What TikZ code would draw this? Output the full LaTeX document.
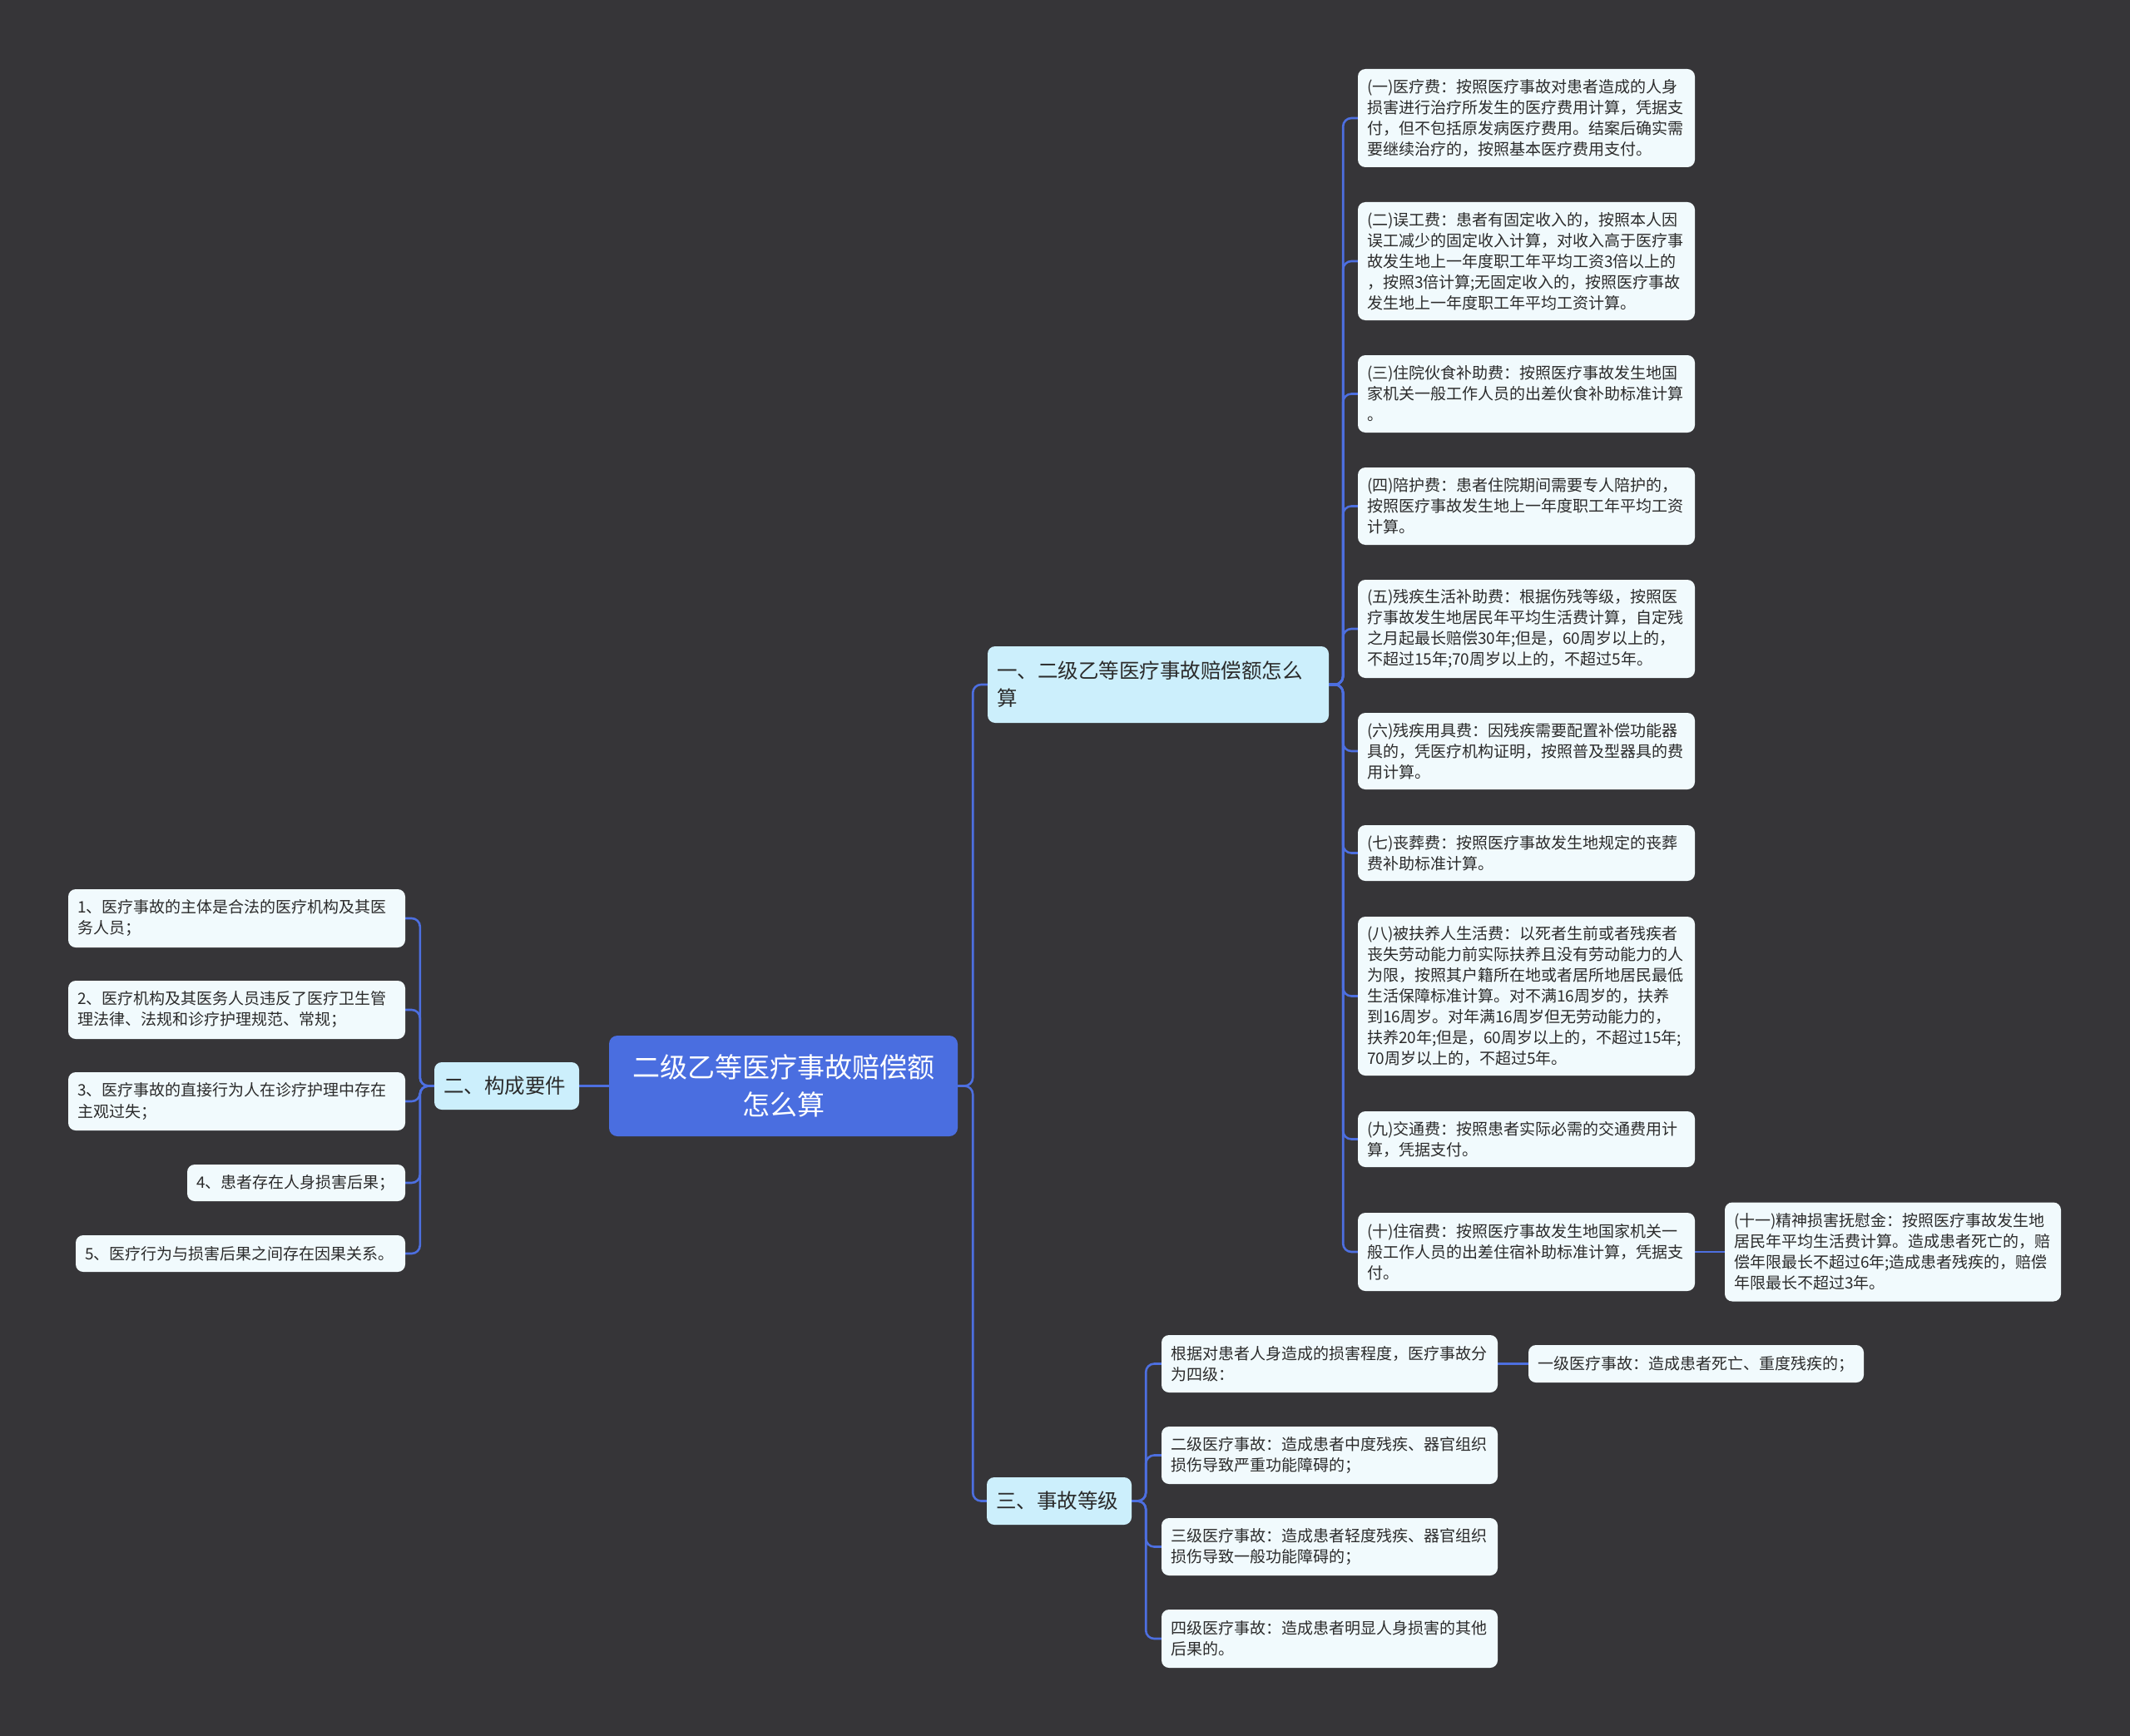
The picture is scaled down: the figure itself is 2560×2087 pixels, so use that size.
\documentclass[tikz,border=0pt]{standalone}
\usepackage{fontspec}
\setmainfont{Noto Sans CJK SC}
\definecolor{bgc}{HTML}{363538}
\definecolor{rootc}{HTML}{4A6EE0}
\definecolor{lonec}{HTML}{CCEFFC}
\definecolor{leafc}{HTML}{F1FAFD}
\definecolor{linec}{HTML}{4D6FE0}
\definecolor{txtc}{HTML}{2B2B2B}
\pgfdeclarelayer{bglayer}
\pgfdeclarelayer{edges}
\pgfsetlayers{bglayer,edges,main}
\tikzset{
  box/.style={rounded corners=9pt, inner xsep=11pt, inner ysep=3pt, align=left, text=txtc},
  leaf/.style={box, fill=leafc, font=\fontsize{19}{25}\selectfont},
  lone/.style={box, fill=lonec, font=\fontsize{24.5}{33}\selectfont, inner xsep=11pt},
  rootbox/.style={rounded corners=10pt, fill=rootc, text=white, align=center, font=\fontsize{33}{45}\selectfont},
  conn/.style={draw=linec, line width=2.6pt, rounded corners=10pt},
}
\begin{document}
\begin{tikzpicture}[x=1pt,y=-1pt]
\begin{pgfonlayer}{bglayer}
\fill[bgc] (0,0) rectangle (2560,2087);
\end{pgfonlayer}
\useasboundingbox (0,0) rectangle (2560,2087);

% root
\node[rootbox, minimum width=419pt, minimum height=121pt, text width=400pt] (root) at (941.5,1305.5) {二级乙等医疗事故赔偿额\\怎么算};

% level one
\node[lone, minimum width=410pt, minimum height=92pt, text width=388pt] (ca) at (1392,823) {一、二级乙等医疗事故赔偿额怎么\\算};
\node[lone, minimum width=174pt, minimum height=57pt, text width=152pt] (cc) at (1273,1804.5) {三、事故等级};
\node[lone, minimum width=174pt, minimum height=57pt, text width=152pt] (cb) at (609,1305.5) {二、构成要件};

% left items
\node[leaf, minimum width=405pt, minimum height=70pt, text width=383pt] (l1) at (284.5,1104) {1、医疗事故的主体是合法的医疗机构及其医\\务人员；};
\node[leaf, minimum width=405pt, minimum height=70pt, text width=383pt] (l2) at (284.5,1214) {2、医疗机构及其医务人员违反了医疗卫生管\\理法律、法规和诊疗护理规范、常规；};
\node[leaf, minimum width=405pt, minimum height=70pt, text width=383pt] (l3) at (284.5,1324) {3、医疗事故的直接行为人在诊疗护理中存在\\主观过失；};
\node[leaf, minimum width=262pt, minimum height=44pt, text width=240pt] (l4) at (356,1422) {4、患者存在人身损害后果；};
\node[leaf, minimum width=396pt, minimum height=44pt, text width=374pt] (l5) at (289,1507) {5、医疗行为与损害后果之间存在因果关系。};

% right items of ca
\node[leaf, minimum width=405pt, minimum height=118pt, text width=383pt] (r1) at (1834.5,142) {(一)医疗费：按照医疗事故对患者造成的人身\\损害进行治疗所发生的医疗费用计算，凭据支\\付，但不包括原发病医疗费用。结案后确实需\\要继续治疗的，按照基本医疗费用支付。};
\node[leaf, minimum width=405pt, minimum height=142pt, text width=383pt] (r2) at (1834.5,314) {(二)误工费：患者有固定收入的，按照本人因\\误工减少的固定收入计算，对收入高于医疗事\\故发生地上一年度职工年平均工资3倍以上的\\，按照3倍计算;无固定收入的，按照医疗事故\\发生地上一年度职工年平均工资计算。};
\node[leaf, minimum width=405pt, minimum height=93pt, text width=383pt] (r3) at (1834.5,473.5) {(三)住院伙食补助费：按照医疗事故发生地国\\家机关一般工作人员的出差伙食补助标准计算\\。};
\node[leaf, minimum width=405pt, minimum height=93pt, text width=383pt] (r4) at (1834.5,608.5) {(四)陪护费：患者住院期间需要专人陪护的，\\按照医疗事故发生地上一年度职工年平均工资\\计算。};
\node[leaf, minimum width=405pt, minimum height=118pt, text width=383pt] (r5) at (1834.5,756) {(五)残疾生活补助费：根据伤残等级，按照医\\疗事故发生地居民年平均生活费计算，自定残\\之月起最长赔偿30年;但是，60周岁以上的，\\不超过15年;70周岁以上的，不超过5年。};
\node[leaf, minimum width=405pt, minimum height=92pt, text width=383pt] (r6) at (1834.5,903) {(六)残疾用具费：因残疾需要配置补偿功能器\\具的，凭医疗机构证明，按照普及型器具的费\\用计算。};
\node[leaf, minimum width=405pt, minimum height=67pt, text width=383pt] (r7) at (1834.5,1025.5) {(七)丧葬费：按照医疗事故发生地规定的丧葬\\费补助标准计算。};
\node[leaf, minimum width=405pt, minimum height=191pt, text width=383pt] (r8) at (1834.5,1197.5) {(八)被扶养人生活费：以死者生前或者残疾者\\丧失劳动能力前实际扶养且没有劳动能力的人\\为限，按照其户籍所在地或者居所地居民最低\\生活保障标准计算。对不满16周岁的，扶养\\到16周岁。对年满16周岁但无劳动能力的，\\扶养20年;但是，60周岁以上的，不超过15年;\\70周岁以上的，不超过5年。};
\node[leaf, minimum width=405pt, minimum height=67pt, text width=383pt] (r9) at (1834.5,1369.5) {(九)交通费：按照患者实际必需的交通费用计\\算，凭据支付。};
\node[leaf, minimum width=405pt, minimum height=94pt, text width=383pt] (r10) at (1834.5,1505) {(十)住宿费：按照医疗事故发生地国家机关一\\般工作人员的出差住宿补助标准计算，凭据支\\付。};
\node[leaf, minimum width=404pt, minimum height=119pt, text width=382pt] (r11) at (2275,1505) {(十一)精神损害抚慰金：按照医疗事故发生地\\居民年平均生活费计算。造成患者死亡的，赔\\偿年限最长不超过6年;造成患者残疾的，赔偿\\年限最长不超过3年。};

% items of cc
\node[leaf, minimum width=404pt, minimum height=69pt, text width=382pt] (g0) at (1598,1639.5) {根据对患者人身造成的损害程度，医疗事故分\\为四级：};
\node[leaf, minimum width=403pt, minimum height=45pt, text width=381pt] (g1) at (2038.5,1639.5) {一级医疗事故：造成患者死亡、重度残疾的；};
\node[leaf, minimum width=404pt, minimum height=69pt, text width=382pt] (g2) at (1598,1749.5) {二级医疗事故：造成患者中度残疾、器官组织\\损伤导致严重功能障碍的；};
\node[leaf, minimum width=404pt, minimum height=69pt, text width=382pt] (g3) at (1598,1859.5) {三级医疗事故：造成患者轻度残疾、器官组织\\损伤导致一般功能障碍的；};
\node[leaf, minimum width=404pt, minimum height=70pt, text width=382pt] (g4) at (1598,1970) {四级医疗事故：造成患者明显人身损害的其他\\后果的。};

\begin{pgfonlayer}{edges}
% root connectors
\draw[conn] (root.east) -- ++(18,0) |- (ca.west);
\draw[conn] (root.east) -- ++(18,0) |- (cc.west);
\draw[conn] (root.west) -- (cb.east);
% left group
\foreach \n in {l1,l2,l3,l4,l5}
  \draw[conn] (cb.west) -- ++(-17,0) |- (\n.east);
% right group
\foreach \n in {r1,r2,r3,r4,r5,r6,r7,r8,r9,r10}
  \draw[conn] (ca.east) -- ++(17,0) |- (\n.west);
\draw[conn] (r10.east) -- (r11.west);
% accident levels
\foreach \n in {g0,g2,g3,g4}
  \draw[conn] (cc.east) -- ++(17,0) |- (\n.west);
\draw[conn] (g0.east) -- (g1.west);
\end{pgfonlayer}
\end{tikzpicture}
\end{document}
